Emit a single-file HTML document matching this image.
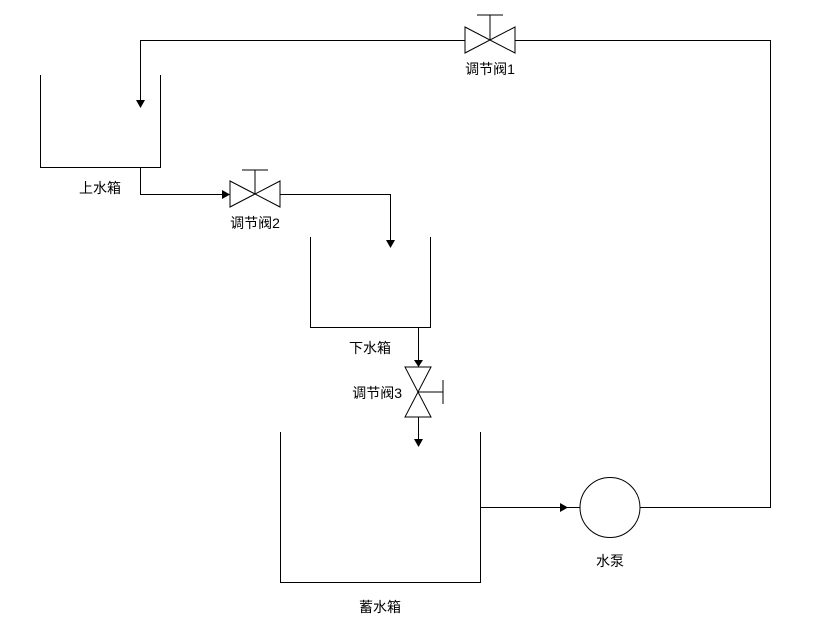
<!DOCTYPE html>
<html><head><meta charset="utf-8"><style>
html,body{margin:0;padding:0;background:#fff;}
svg text{font-family:"Liberation Sans","Noto Sans CJK SC",sans-serif;font-size:14px;fill:#000;}
</style></head><body>
<svg width="818" height="632" viewBox="0 0 818 632" xmlns="http://www.w3.org/2000/svg">
<g stroke="#000" stroke-width="1" fill="none" shape-rendering="crispEdges">
<polyline points="40.5,75 40.5,167.5 160.5,167.5 160.5,75"/>
<polyline points="310.5,237 310.5,327.5 430.5,327.5 430.5,237"/>
<polyline points="280.5,432 280.5,582.5 480.5,582.5 480.5,432"/>
<polyline points="465,40.5 140.5,40.5 140.5,100"/>
<polyline points="515,40.5 770.5,40.5 770.5,507.5 640,507.5"/>
<polyline points="140.5,167 140.5,194.5 226,194.5"/>
<polyline points="280,194.5 390.5,194.5 390.5,240"/>
<line x1="418.5" y1="327" x2="418.5" y2="362"/>
<line x1="418.5" y1="417" x2="418.5" y2="440"/>
<line x1="480" y1="507.5" x2="580" y2="507.5"/>
</g>
<g stroke="#000" stroke-width="1" fill="none">
<circle cx="610" cy="507.5" r="30"/>
<polygon points="465,27 465,53 515,27 515,53" fill="#fff"/>
<line x1="490" y1="40" x2="490" y2="15"/><line x1="477" y1="15" x2="503" y2="15"/>
<polygon points="230,181 230,207 280,181 280,207" fill="#fff"/>
<line x1="255" y1="194" x2="255" y2="170"/><line x1="242" y1="170" x2="268" y2="170"/>
<polygon points="405,367 431,367 405,417 431,417" fill="#fff"/>
<line x1="418" y1="392" x2="443" y2="392"/><line x1="443" y1="380" x2="443" y2="404"/>
</g>
<g fill="#000">
<polygon points="136,100 145,100 140.5,108"/>
<polygon points="386,240 395,240 390.5,248"/>
<polygon points="222,190 230,194.5 222,199"/>
<polygon points="414,360 423,360 418.5,367"/>
<polygon points="414,439 423,439 418.5,447"/>
<polygon points="560,503 568,507.5 560,512"/>
</g>
<text x="490" y="74" text-anchor="middle">调节阀1</text>
<text x="100" y="193" text-anchor="middle">上水箱</text>
<text x="255" y="228" text-anchor="middle">调节阀2</text>
<text x="370" y="353" text-anchor="middle">下水箱</text>
<text x="402" y="398" text-anchor="end">调节阀3</text>
<text x="610" y="566" text-anchor="middle">水泵</text>
<text x="380" y="612" text-anchor="middle">蓄水箱</text>
</svg>
</body></html>
